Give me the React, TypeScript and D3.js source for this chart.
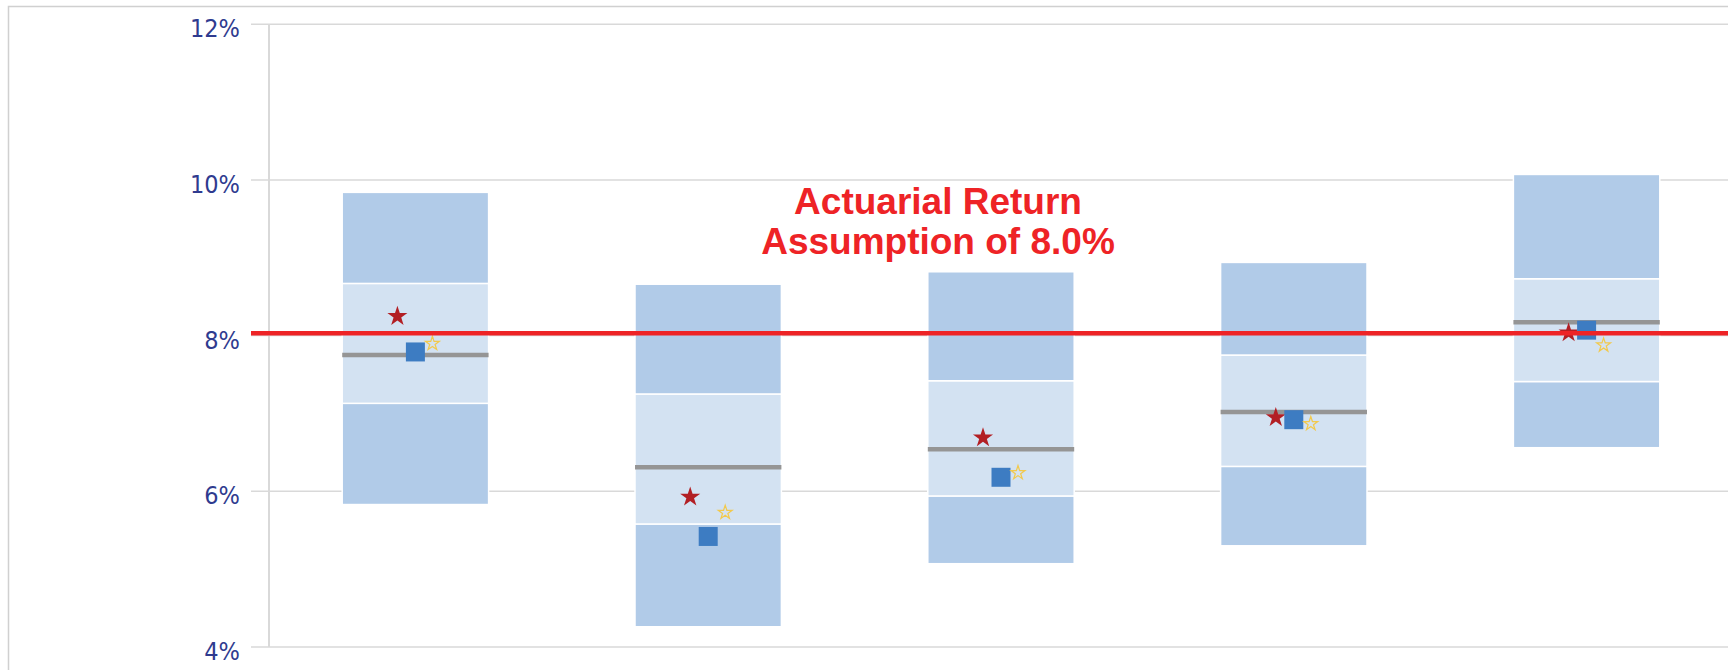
import { useRef, useEffect } from "react";
import * as d3 from "d3";

// one box per portfolio, values in %
const categories = ["Portfolio 1", "Portfolio 2", "Portfolio 3", "Portfolio 4", "Portfolio 5"];
const p5 = [5.83, 4.26, 5.07, 5.3, 6.56];
const p25 = [7.13, 5.58, 5.94, 6.32, 7.41];
const median = [7.75, 6.31, 6.54, 7.02, 8.17];
const p75 = [8.67, 7.25, 7.42, 7.75, 8.73];
const p95 = [9.84, 8.66, 8.82, 8.94, 10.07];
const redStar = [8.26, 5.94, 6.7, 6.96, 8.05];
const blueSquare = [7.79, 5.42, 6.18, 6.92, 8.07];
const yellowStar = [7.91, 5.74, 6.25, 6.88, 7.89];
const yTicks = [4, 6, 8, 10, 12];
const assumption = 8.03;
const titleLines = ["Actuarial Return", "Assumption of 8.0%"];

const App = () => {
    const svgRef = useRef<SVGSVGElement>(null);

    useEffect(() => {
        const width = 1728;
        const height = 670;

        const svg = d3.select(svgRef.current);
        svg.selectAll("*").remove();
        svg.attr("width", width).attr("height", height);

        const x = d3
            .scaleBand()
            .domain(categories)
            .range([269, 1733])
            .paddingInner(0.5)
            .paddingOuter(0.25);
        const y = d3.scaleLinear().domain([4, 12]).range([647, 24.2]);

        // outer frame (cut off at right and bottom)
        svg.append("rect")
            .attr("x", 8.5)
            .attr("y", 6.5)
            .attr("width", 1800)
            .attr("height", 700)
            .attr("fill", "white")
            .attr("stroke", "#d0d0d0")
            .attr("stroke-width", 1.5);

        // gridlines + labels
        const axis = svg.append("g");
        axis.selectAll("line.grid")
            .data(yTicks)
            .join("line")
            .attr("class", "grid")
            .attr("x1", 251)
            .attr("x2", width)
            .attr("y1", (d) => y(d))
            .attr("y2", (d) => y(d))
            .attr("stroke", "#d9d9d9")
            .attr("stroke-width", 1.5);

        axis.append("line")
            .attr("x1", 269)
            .attr("x2", 269)
            .attr("y1", y(12))
            .attr("y2", y(4))
            .attr("stroke", "#d9d9d9")
            .attr("stroke-width", 2);

        axis.selectAll("text")
            .data(yTicks)
            .join("text")
            .attr("x", 240)
            .attr("y", (d) => y(d) + 13)
            .attr("text-anchor", "end")
            .style("font-family", "'DejaVu Sans Condensed', 'DejaVu Sans', sans-serif")
            .style("font-stretch", "condensed")
            .style("font-size", "25px")
            .style("fill", "#2f3b8f")
            .text((d) => `${d}%`);

        const bw = x.bandwidth();
        const boxes = svg.append("g");
        const bands = [
            { lo: p5, hi: p25, color: "#b1cbe8" },
            { lo: p25, hi: p75, color: "#d3e2f2" },
            { lo: p75, hi: p95, color: "#b1cbe8" },
        ];
        bands.forEach((b) => {
            boxes.selectAll(null)
                .data(categories)
                .join("rect")
                .attr("x", (d) => x(d)!)
                .attr("width", bw)
                .attr("y", (d, i) => y(b.hi[i]))
                .attr("height", (d, i) => y(b.lo[i]) - y(b.hi[i]))
                .attr("fill", b.color)
                .attr("stroke", "white")
                .attr("stroke-width", 1.5);
        });

        // median bar
        boxes.selectAll(null)
            .data(categories)
            .join("line")
            .attr("x1", (d) => x(d)!)
            .attr("x2", (d) => x(d)! + bw)
            .attr("y1", (d, i) => y(median[i]))
            .attr("y2", (d, i) => y(median[i]))
            .attr("stroke", "#959595")
            .attr("stroke-width", 4.5);

        const cx = (d: string) => x(d)! + bw / 2;
        const markers = svg.append("g");

        markers.selectAll(null)
            .data(categories)
            .join("path")
            .attr("d", d3.symbol(d3.symbolStar, 125)())
            .attr("transform", (d, i) => `translate(${cx(d) - 18}, ${y(redStar[i]) + 1})`)
            .attr("fill", "#b21f24");

        markers.selectAll(null)
            .data(categories)
            .join("path")
            .attr("d", d3.symbol(d3.symbolSquare, 361)())
            .attr("transform", (d, i) => `translate(${cx(d)}, ${y(blueSquare[i])})`)
            .attr("fill", "#3d7cc2");

        markers.selectAll(null)
            .data(categories)
            .join("path")
            .attr("d", d3.symbol(d3.symbolStar, 60)())
            .attr("transform", (d, i) => `translate(${cx(d) + 17}, ${y(yellowStar[i]) + 1})`)
            .attr("fill", "none")
            .attr("stroke", "#f2c94c")
            .attr("stroke-width", 1.2);

        // assumption line
        svg.append("line")
            .attr("x1", 251)
            .attr("x2", width)
            .attr("y1", y(assumption))
            .attr("y2", y(assumption))
            .attr("stroke", "#ee2326")
            .attr("stroke-width", 4.5);

        svg.append("g")
            .selectAll("text")
            .data(titleLines)
            .join("text")
            .attr("x", 938)
            .attr("y", (d, i) => 214 + i * 40)
            .attr("text-anchor", "middle")
            .style("font-family", "'Liberation Sans', Arial, sans-serif")
            .style("font-weight", "bold")
            .style("font-size", "37px")
            .style("fill", "#ee2326")
            .text((d) => d);
    }, []);

    return (
        <svg
            ref={svgRef}
            style={{ position: "absolute", left: 0, top: 0, display: "block" }}
        ></svg>
    );
};

export default App;
